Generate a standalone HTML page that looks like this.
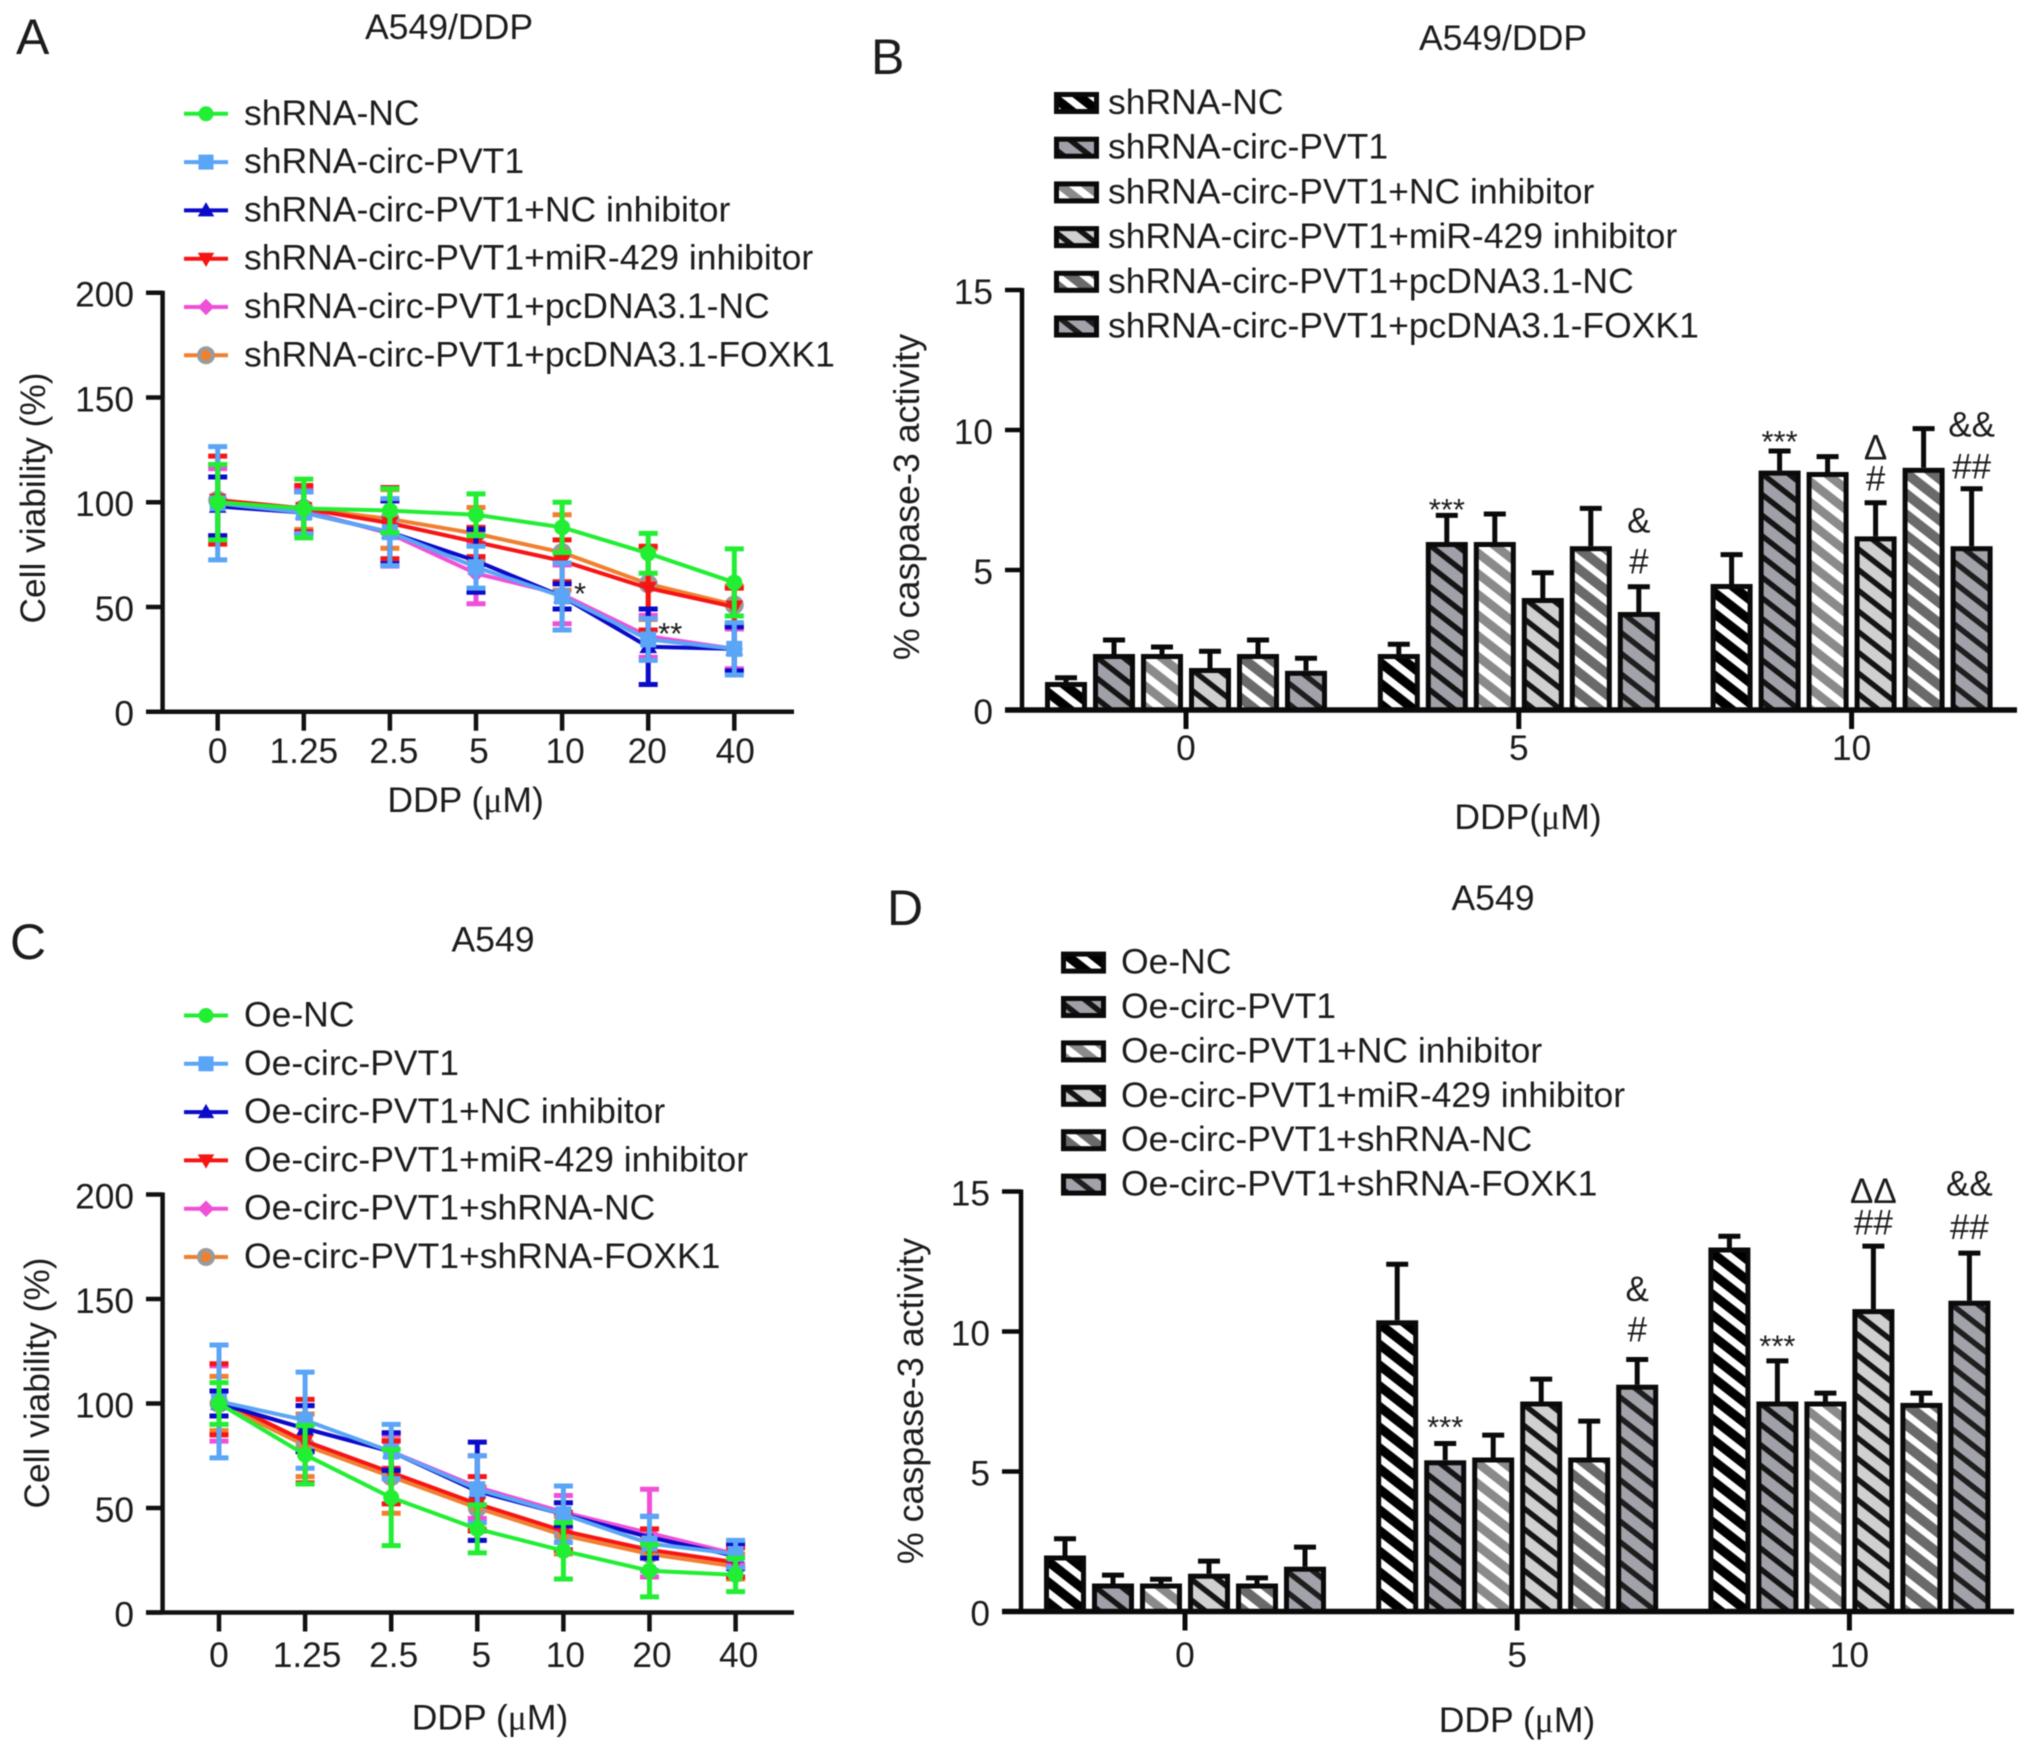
<!DOCTYPE html>
<html lang="en">
<head>
<meta charset="utf-8">
<title>Cell viability and caspase-3 activity</title>
<style>
html,body{margin:0;padding:0;background:#fff;}
svg{display:block;filter:blur(0.6px);}
text{font-family:"Liberation Sans",sans-serif;fill:#1c1c1c;}
</style>
</head>
<body>
<svg id="figure" xmlns="http://www.w3.org/2000/svg" width="2031" height="1754" viewBox="0 0 2031 1754">
<defs id="defs"></defs>
<rect width="2031" height="1754" fill="#fff"></rect>
</svg>
<script>
// ---------- shared categories and ticks ----------
const doseCategories = ["0", "1.25", "2.5", "5", "10", "20", "40"];
const viabilityTicks = [0, 50, 100, 150, 200];
const caspaseGroups = ["0", "5", "10"];
const caspaseTicks = [0, 5, 10, 15];
const seriesColors = ["#22ee33", "#5aa5f5", "#0a0ac8", "#f71414", "#f050d8", "#f08030"];
const seriesShapes = ["circle", "square", "triangle", "inverted", "diamond", "ring"];

// ---------- panel A ----------
const legendA = ["shRNA-NC", "shRNA-circ-PVT1", "shRNA-circ-PVT1+NC inhibitor", "shRNA-circ-PVT1+miR-429 inhibitor", "shRNA-circ-PVT1+pcDNA3.1-NC", "shRNA-circ-PVT1+pcDNA3.1-FOXK1"];
const meansA0 = [100, 97, 96, 94, 88, 75.6, 61.7];
const meansA1 = [99.5, 95, 85.7, 69, 55, 34.5, 30];
const meansA2 = [98, 95, 85.7, 72, 55, 31, 30];
const meansA3 = [101, 97, 90, 81, 72, 59, 50];
const meansA4 = [99, 96, 85, 66, 56, 36, 30];
const meansA5 = [101, 97, 92, 85, 76, 61, 51];
const errsA0 = [18, 14, 10.5, 10, 12, 9.5, 16];
const errsA1 = [27, 10, 16, 10, 16, 10, 12.5];
const errsA2 = [14, 10, 15, 15, 6, 18, 10.5];
const errsA3 = [21, 11, 17, 7, 10, 20, 9];
const errsA4 = [17, 10, 15.5, 14.5, 14, 10, 9.5];
const errsA5 = [17, 10, 14, 12.5, 18, 17, 9];

// ---------- panel C ----------
const legendC = ["Oe-NC", "Oe-circ-PVT1", "Oe-circ-PVT1+NC inhibitor", "Oe-circ-PVT1+miR-429 inhibitor", "Oe-circ-PVT1+shRNA-NC", "Oe-circ-PVT1+shRNA-FOXK1"];
const meansC0 = [100, 75.5, 55, 40, 29.5, 20, 18];
const meansC1 = [101, 92, 77, 59, 47, 33, 28];
const meansC2 = [100, 88, 77, 58, 47, 36, 27];
const meansC3 = [102, 82, 67, 52, 39, 30, 24];
const meansC4 = [100, 88, 77, 60, 48, 38, 28];
const meansC5 = [100, 80, 65, 50, 37, 28, 22];
const errsC0 = [10, 14, 23, 11.5, 13.5, 12.5, 8];
const errsC1 = [27, 23, 13, 16, 13.5, 13, 6.5];
const errsC2 = [6, 11, 9, 23.5, 5.5, 10, 6];
const errsC3 = [17, 20, 15, 13, 9, 10, 7];
const errsC4 = [18, 11, 8, 15, 8, 21, 5];
const errsC5 = [13, 15, 17.5, 10, 9, 8, 6];

// ---------- panel B ----------
const legendB = ["shRNA-NC", "shRNA-circ-PVT1", "shRNA-circ-PVT1+NC inhibitor", "shRNA-circ-PVT1+miR-429 inhibitor", "shRNA-circ-PVT1+pcDNA3.1-NC", "shRNA-circ-PVT1+pcDNA3.1-FOXK1"];
const barsB0 = [1.0, 2.0, 2.0, 1.5, 2.0, 1.4];
const barsB5 = [2.0, 6.0, 6.0, 4.0, 5.85, 3.5];
const barsB10 = [4.5, 8.55, 8.5, 6.2, 8.65, 5.85];
const topsB0 = [1.15, 2.5, 2.25, 2.1, 2.5, 1.85];
const topsB5 = [2.35, 6.95, 7.0, 4.9, 7.2, 4.4];
const topsB10 = [5.55, 9.25, 9.05, 7.4, 10.05, 7.9];
const marksB = ["***", "&", "#", "***", "Δ", "#", "&&", "##"];
const markGroupsB = [1, 1, 1, 2, 2, 2, 2, 2];
const markBarsB = [1, 5, 5, 1, 3, 3, 5, 5];
const markLevelsB = [7.25, 6.68, 5.21, 9.68, 9.29, 8.18, 10.1, 8.6];

// ---------- panel D ----------
const legendD = ["Oe-NC", "Oe-circ-PVT1", "Oe-circ-PVT1+NC inhibitor", "Oe-circ-PVT1+miR-429 inhibitor", "Oe-circ-PVT1+shRNA-NC", "Oe-circ-PVT1+shRNA-FOXK1"];
const barsD0 = [2.0, 1.0, 1.0, 1.35, 1.0, 1.6];
const barsD5 = [10.4, 5.4, 5.5, 7.5, 5.5, 8.1];
const barsD10 = [13.0, 7.5, 7.5, 10.8, 7.45, 11.1];
const topsD0 = [2.6, 1.3, 1.15, 1.8, 1.2, 2.3];
const topsD5 = [12.4, 6.0, 6.3, 8.3, 6.8, 9.0];
const topsD10 = [13.4, 8.95, 7.8, 13.05, 7.8, 12.8];
const marksD = ["***", "&", "#", "***", "ΔΔ", "##", "&&", "##"];
const markGroupsD = [1, 1, 1, 2, 2, 2, 2, 2];
const markBarsD = [1, 5, 5, 1, 3, 3, 5, 5];
const markLevelsD = [6.68, 11.42, 9.98, 9.57, 14.93, 13.8, 15.2, 13.65];

const NS = "http://www.w3.org/2000/svg";
const svg = document.getElementById("figure");
const defs = document.getElementById("defs");

function mk(tag, attrs, parent) {
  const e = document.createElementNS(NS, tag);
  for (const k in attrs) e.setAttribute(k, attrs[k]);
  (parent || svg).appendChild(e);
  return e;
}
function txt(str, x, y, size, anchor, parent, rotate) {
  const a = {x: x, y: y, "font-size": size, "text-anchor": anchor || "start"};
  if (rotate) a.transform = "rotate(-90 " + x + " " + y + ")";
  const t = mk("text", a, parent);
  t.textContent = str;
  return t;
}
function doseTitle(before, x, y, parent) {
  const t = mk("text", {x: x, y: y, "font-size": 35.5, "text-anchor": "middle"}, parent);
  t.appendChild(document.createTextNode(before));
  const mu = mk("tspan", {style: 'font-family:"Liberation Serif",serif'}, t);
  mu.textContent = "μ";
  t.appendChild(document.createTextNode("M)"));
  return t;
}

// hatch patterns
const hatchBase = ["#000000", "#a0a0a8", "#8a8a8a", "#d0d0d0", "#6a6a6a", "#a2a2aa"];
const hatchStripe = ["#ffffff", "#141414", "#ffffff", "#141414", "#ffffff", "#1e1e1e"];
const hatchWidth = [7, 5.5, 7.5, 5.5, 6.5, 5.5];
hatchBase.forEach(function (c, i) {
  const p = mk("pattern", {id: "hatch" + i, patternUnits: "userSpaceOnUse", width: 16.3, height: 16.3, patternTransform: "rotate(38)"}, defs);
  mk("rect", {width: 16.3, height: 16.3, fill: c}, p);
  mk("rect", {y: 3, width: 16.3, height: hatchWidth[i], fill: hatchStripe[i]}, p);
});

function marker(shape, cx, cy, color, parent, s) {
  if (shape === "circle") return mk("circle", {cx: cx, cy: cy, r: s, fill: color}, parent);
  if (shape === "square") return mk("rect", {x: cx - s, y: cy - s, width: 2 * s, height: 2 * s, fill: color}, parent);
  if (shape === "triangle") return mk("polygon", {points: [cx, cy - s * 1.1, cx + s * 1.1, cy + s * 0.8, cx - s * 1.1, cy + s * 0.8].join(" "), fill: color}, parent);
  if (shape === "inverted") return mk("polygon", {points: [cx, cy + s * 1.1, cx + s * 1.1, cy - s * 0.8, cx - s * 1.1, cy - s * 0.8].join(" "), fill: color}, parent);
  if (shape === "diamond") return mk("polygon", {points: [cx, cy - s * 1.1, cx + s * 1.1, cy, cx, cy + s * 1.1, cx - s * 1.1, cy].join(" "), fill: color}, parent);
  const g = mk("g", {}, parent);
  mk("circle", {cx: cx, cy: cy, r: s + 1.5, fill: "#9a9a9a"}, g);
  mk("circle", {cx: cx, cy: cy, r: s - 2.5, fill: color}, g);
  return g;
}

function linePanel(id, L, means, errs, legend, legendY) {
  const panel = mk("g", {});
  
  
  const xScale = function (i) { return L.x0 + i * L.dx; };
  const yScale = function (v) { return L.y0 - v * L.unit; };

  const xAxis = mk("line", {x1: L.xLeft, x2: L.xRight, y1: L.y0, y2: L.y0, stroke: "#111", "stroke-width": 4.5}, panel);
  
  
  const yAxis = mk("line", {x1: L.yAxisX, x2: L.yAxisX, y1: yScale(200) - 2, y2: L.y0 + 2, stroke: "#111", "stroke-width": 4.5}, panel);
  
  

  viabilityTicks.forEach(function (v) {
    const tick = mk("line", {x1: L.xLeft, x2: L.yAxisX, y1: yScale(v), y2: yScale(v), stroke: "#111", "stroke-width": 4.5}, panel);
    
    
    const lab = txt(String(v), 134, yScale(v) + 14, 35.3, "end", panel);
    
    
  });
  doseCategories.forEach(function (c, i) {
    const tick = mk("line", {x1: xScale(i), x2: xScale(i), y1: L.y0, y2: L.y0 + 19, stroke: "#111", "stroke-width": 4.5}, panel);
    
    
    const lab = txt(c, xScale(i) + L.labelNudge[i], L.xLabelY, 35.3, "middle", panel);
    
    
  });

  // draw from last series to first so green ends on top
  [5, 4, 3, 2, 1, 0].forEach(function (s) {
    const g = mk("g", {}, panel);
    
    
    const color = seriesColors[s];
    means[s].forEach(function (m, i) {
      const e = errs[s][i];
      const x = xScale(i);
      const bar = mk("path", {d: "M" + (x - 9.5) + " " + yScale(m + e) + "H" + (x + 9.5) + "M" + x + " " + yScale(m + e) + "V" + yScale(m - e) + "M" + (x - 9.5) + " " + yScale(m - e) + "H" + (x + 9.5), stroke: color, "stroke-width": 5, fill: "none"}, g);
      
      
    });
    const line = mk("polyline", {points: means[s].map(function (m, i) { return xScale(i) + "," + yScale(m); }).join(" "), fill: "none", stroke: color, "stroke-width": 4}, g);
    
    
    means[s].forEach(function (m, i) {
      const pt = marker(seriesShapes[s], xScale(i), yScale(m), color, g, 8);
      
      
    });
  });

  legend.forEach(function (name, i) {
    const y = legendY + i * 48.3;
    const g = mk("g", {}, panel);
    
    
    mk("line", {x1: 184, x2: 228, y1: y, y2: y, stroke: seriesColors[i], "stroke-width": 4}, g);
    marker(seriesShapes[i], 206, y, seriesColors[i], g, 7.5);
    txt(name, 244, y + 11, 35.5, "start", g);
  });
  return {panel: panel, xScale: xScale, yScale: yScale};
}

function barPanel(id, L, bars, tops, legend, legendY, legendStep, marks, markGroups, markBars, markLevels) {
  const panel = mk("g", {});
  
  
  const groupX = function (g) { return L.x0 + g * L.gap; };
  const barX = function (g, b) { return groupX(g) + (b - 2.5) * 48; };
  const yScale = function (v) { return L.y0 - v * 28; };

  bars.forEach(function (vals, g) {
    vals.forEach(function (v, b) {
      const x = barX(g, b);
      const err = mk("path", {d: "M" + x + " " + yScale(v) + "V" + yScale(tops[g][b]) + "M" + (x - 11) + " " + yScale(tops[g][b]) + "H" + (x + 11), stroke: "#0a0a0a", "stroke-width": 5, fill: "none"}, panel);
      
      
      const r = mk("rect", {x: x - 18.5, y: yScale(v) + 2.5, width: 37, height: Math.max(0, v * 28 - 2.5), fill: "url(#hatch" + b + ")", stroke: "#0a0a0a", "stroke-width": 5}, panel);
      
      
    });
  });

  const xAxis = mk("line", {x1: L.xLeft, x2: L.xRight, y1: L.y0, y2: L.y0, stroke: "#0a0a0a", "stroke-width": 5.5}, panel);
  
  
  const yAxis = mk("line", {x1: L.yAxisX, x2: L.yAxisX, y1: yScale(15) - 2, y2: L.y0, stroke: "#0a0a0a", "stroke-width": 4.5}, panel);
  
  

  caspaseTicks.forEach(function (v) {
    const tick = mk("line", {x1: L.xLeft, x2: L.yAxisX, y1: yScale(v), y2: yScale(v), stroke: "#0a0a0a", "stroke-width": 4.5}, panel);
    
    
    const lab = txt(String(v), L.xLeft - 12, yScale(v) + 14, 35.3, "end", panel);
    
    
  });
  caspaseGroups.forEach(function (c, g) {
    const tick = mk("line", {x1: groupX(g), x2: groupX(g), y1: L.y0, y2: L.y0 + 19, stroke: "#0a0a0a", "stroke-width": 5}, panel);
    
    
    const lab = txt(c, groupX(g), L.xLabelY, 35.3, "middle", panel);
    
    
  });

  marks.forEach(function (m, i) {
    const stars = m === "***";
    const t = txt(m, barX(markGroups[i], markBars[i]), yScale(markLevels[i]) + (stars ? 13 : 9.5), stars ? 31 : 35, "middle", panel);
    
    
  });

  legend.forEach(function (name, i) {
    const y = legendY + i * legendStep;
    const g = mk("g", {}, panel);
    
    
    mk("rect", {x: L.legendX + 2.5, y: y - 8.5, width: 40, height: 17, fill: "url(#hatch" + i + ")", stroke: "#0a0a0a", "stroke-width": 5}, g);
    txt(name, L.legendTextX, y + 11, 35.5, "start", g);
  });
  return panel;
}

// ----- Panel A -----
const pA = linePanel("a",
  {x0: 217.7, dx: 86.1, y0: 711.7, unit: 2.095, xLeft: 146, xRight: 794, yAxisX: 162.6, xLabelY: 763, labelNudge: [0, 0, 4, 3, 3, -1, 1]},
  [meansA0, meansA1, meansA2, meansA3, meansA4, meansA5],
  [errsA0, errsA1, errsA2, errsA3, errsA4, errsA5], legendA, 113.8);
const starA1 = txt("*", pA.xScale(4) + 18, pA.yScale(59) + 16, 31, "middle", pA.panel);


const starA2 = txt("**", pA.xScale(5) + 22, pA.yScale(40) + 16, 31, "middle", pA.panel);



// ----- Panel C -----
linePanel("c",
  {x0: 219, dx: 86.1, y0: 1612.5, unit: 2.09, xLeft: 146, xRight: 794, yAxisX: 162.6, xLabelY: 1667, labelNudge: [0, 2, 2.5, 4, 2, 2.5, 3]},
  [meansC0, meansC1, meansC2, meansC3, meansC4, meansC5],
  [errsC0, errsC1, errsC2, errsC3, errsC4, errsC5], legendC, 1015.5);

// ----- Panel B -----
barPanel("b",
  {x0: 1186, gap: 332.8, y0: 710, xLeft: 1005, xRight: 2017, yAxisX: 1022, xLabelY: 760, legendX: 1054, legendTextX: 1108},
  [barsB0, barsB5, barsB10], [topsB0, topsB5, topsB10], legendB, 103, 44.7,
  marksB, markGroupsB, markBarsB, markLevelsB);

// ----- Panel D -----
barPanel("d",
  {x0: 1185, gap: 332.2, y0: 1611.5, xLeft: 1002, xRight: 2014, yAxisX: 1021, xLabelY: 1667, legendX: 1061, legendTextX: 1121},
  [barsD0, barsD5, barsD10], [topsD0, topsD5, topsD10], legendD, 962.6, 44.4,
  marksD, markGroupsD, markBarsD, markLevelsD);

// ----- Titles, panel letters, axis titles -----
const letterA = txt("A", 16, 54, 50, "start");


const letterB = txt("B", 871, 74, 50, "start");


const letterC = txt("C", 10, 959, 50, "start");


const letterD = txt("D", 887, 925, 50, "start");



const titleA = txt("A549/DDP", 449, 39, 35.6, "middle");


const titleB = txt("A549/DDP", 1503, 50, 35.6, "middle");


const titleC = txt("A549", 493, 951.5, 35.6, "middle");


const titleD = txt("A549", 1493, 910, 35.6, "middle");



const yTitleA = txt("Cell viability (%)", 45, 498, 35.3, "middle", svg, true);


const yTitleC = txt("Cell viability (%)", 49, 1383, 35.3, "middle", svg, true);


const yTitleB = txt("% caspase-3 activity", 919, 497, 35.8, "middle", svg, true);


const yTitleD = txt("% caspase-3 activity", 923, 1401, 35.8, "middle", svg, true);



const xTitleA = doseTitle("DDP (", 465.6, 812, svg);


const xTitleB = doseTitle("DDP(", 1528, 829, svg);


const xTitleC = doseTitle("DDP (", 490, 1729.5, svg);


const xTitleD = doseTitle("DDP (", 1517, 1732, svg);


</script>
</body>
</html>
